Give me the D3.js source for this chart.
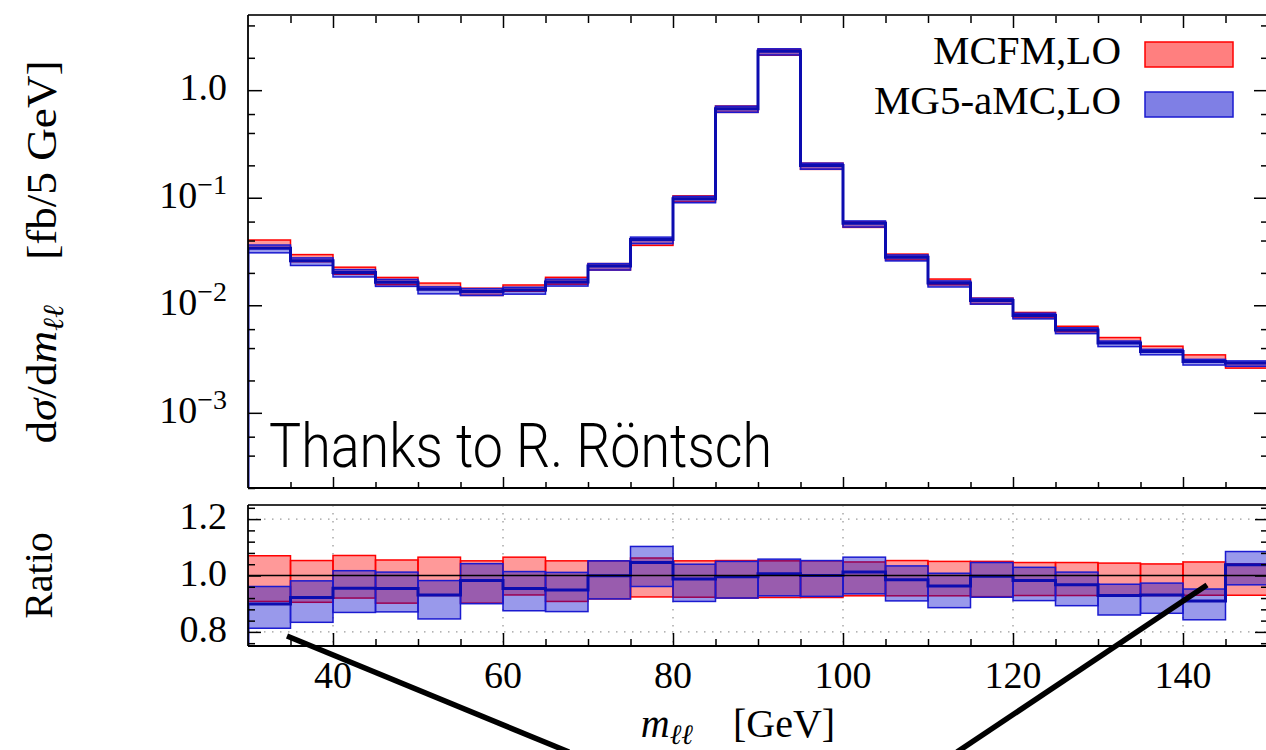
<!DOCTYPE html>
<html>
<head>
<meta charset="utf-8">
<script src="https://cdn.jsdelivr.net/npm/d3@7"></script>
<style>
  body { margin: 0; background: #fff; }
  svg text { font-family: "Liberation Serif", "DejaVu Serif", serif; fill: #000; }
</style>
</head>
<body>
<svg id="chart"></svg>
<script>
// ---- data ----
const binLow = [30, 35, 40, 45, 50, 55, 60, 65, 70, 75, 80, 85, 90, 95, 100, 105, 110, 115, 120, 125, 130, 135, 140, 145];
const binWidth = 5;

// MCFM,LO central value, fb / 5 GeV
const mcfmCentral = [0.0378, 0.0281, 0.0211, 0.0172, 0.0151, 0.0137, 0.0145, 0.0173, 0.0232, 0.0390,
  0.0989, 0.676, 2.29, 0.199, 0.0571, 0.0284, 0.0167, 0.0111, 0.0082, 0.0061, 0.0048, 0.0040, 0.0033, 0.0028];

// scale-variation bands, as ratio to MCFM central
const mcfmRatioLo = [0.908, 0.905, 0.920, 0.902, 0.929, 0.902, 0.931, 0.908, 0.917, 0.924, 0.923, 0.920,
  0.922, 0.922, 0.928, 0.928, 0.928, 0.925, 0.929, 0.929, 0.929, 0.929, 0.930, 0.930];
const mcfmRatioHi = [1.070, 1.053, 1.071, 1.055, 1.065, 1.052, 1.065, 1.052, 1.052, 1.062, 1.052, 1.053,
  1.052, 1.052, 1.048, 1.053, 1.050, 1.050, 1.046, 1.046, 1.044, 1.041, 1.048, 1.041];

const mg5RatioLo = [0.813, 0.834, 0.869, 0.871, 0.846, 0.900, 0.875, 0.872, 0.917, 0.961, 0.908, 0.920,
  0.928, 0.926, 0.935, 0.910, 0.886, 0.923, 0.911, 0.893, 0.860, 0.866, 0.843, 0.967];
const mg5RatioHi = [0.961, 0.981, 1.017, 1.012, 0.982, 1.042, 1.014, 1.011, 1.052, 1.103, 1.040, 1.050,
  1.058, 1.053, 1.065, 1.034, 1.008, 1.046, 1.029, 1.012, 0.969, 0.973, 0.952, 1.085];
const mg5RatioMid = [0.899, 0.922, 0.955, 0.954, 0.931, 0.982, 0.954, 0.949, 0.999, 1.046, 0.988, 0.996,
  1.006, 1.000, 1.012, 0.985, 0.963, 0.997, 0.982, 0.967, 0.929, 0.931, 0.910, 1.038];

const legendLabels = ["MCFM,LO", "MG5-aMC,LO"];
const xTicks = [40, 60, 80, 100, 120, 140];
const yMainTicks = [1e-3, 1e-2, 1e-1, 1];
const yMainMinor = [2e-4, 4e-4, 6e-4, 2e-3, 4e-3, 6e-3, 2e-2, 4e-2, 6e-2, 0.2, 0.4, 0.6, 2, 4];
const ratioTicks = [0.8, 1.0, 1.2];
const ratioMinor = [0.76, 0.84, 0.88, 0.92, 0.96, 1.04, 1.08, 1.12, 1.16, 1.24];

// ---- layout ----
const width = 1266, height = 750;
const L = 248, R = 1268;
const main = { top: 15, bottom: 488 };
const ratio = { top: 505, bottom: 646 };

const red = "#ff0000", blue = "#1a1ad0";
const redFill = "rgba(255,0,0,0.4)", blueFill = "rgba(0,0,204,0.4)";

const svg = d3.select("#chart").attr("width", width).attr("height", height);

const x = d3.scaleLinear().domain([30, 150]).range([L, R]);
const yMain = d3.scaleLog().domain([2e-4, 5]).range([main.bottom, main.top]);
const yRatio = d3.scaleLinear().domain([0.75, 1.25]).range([ratio.bottom, ratio.top]);

const bins = binLow.map((x0, i) => ({
  x0, x1: x0 + binWidth,
  c: mcfmCentral[i],
  rLo: mcfmRatioLo[i], rHi: mcfmRatioHi[i],
  bLo: mg5RatioLo[i], bHi: mg5RatioHi[i], bMid: mg5RatioMid[i]
}));

const defs = svg.append("defs");
defs.append("clipPath").attr("id", "clipMain").append("rect")
  .attr("x", L).attr("y", main.top).attr("width", R - L).attr("height", main.bottom - main.top);
defs.append("clipPath").attr("id", "clipRatio").append("rect")
  .attr("x", L).attr("y", ratio.top).attr("width", R - L).attr("height", ratio.bottom - ratio.top);

// step path through bin values, starting from the bottom of the panel
const stepPoints = (vals, floor) => {
  const pts = [[bins[0].x0, floor]];
  bins.forEach((b, i) => { pts.push([b.x0, vals[i]], [b.x1, vals[i]]); });
  pts.push([bins[bins.length - 1].x1, floor]);
  return pts;
};

const bandRects = (g, cls, lo, hi, fill, stroke, yScale) => {
  g.selectAll("rect." + cls)
    .data(bins)
    .join("rect")
    .attr("class", cls)
    .attr("x", d => x(d.x0))
    .attr("width", d => x(d.x1) - x(d.x0))
    .attr("y", d => yScale(hi(d)))
    .attr("height", d => yScale(lo(d)) - yScale(hi(d)))
    .attr("fill", fill)
    .attr("stroke", stroke)
    .attr("stroke-width", 1.5);
};

// ---- main panel ----
const gMain = svg.append("g").attr("clip-path", "url(#clipMain)");
bandRects(gMain, "mcfm", d => d.c * d.rLo, d => d.c * d.rHi, redFill, red, yMain);
bandRects(gMain, "mg5", d => d.c * d.bLo, d => d.c * d.bHi, blueFill, blue, yMain);

const lineMain = d3.line().x(d => x(d[0])).y(d => yMain(d[1]));
gMain.append("path")
  .attr("d", lineMain(stepPoints(bins.map(b => b.c * b.bMid), 2e-4)))
  .attr("fill", "none").attr("stroke", "#0c0cb0").attr("stroke-width", 3);

// ---- ratio panel ----
const gRatio = svg.append("g");
const grid = gRatio.append("g").attr("stroke", "#9a9a9a").attr("stroke-width", 1.3)
  .attr("stroke-dasharray", "1.5,6.5");
grid.selectAll("line.v").data(xTicks).join("line").attr("class", "v")
  .attr("x1", d => x(d)).attr("x2", d => x(d)).attr("y1", ratio.top).attr("y2", ratio.bottom);
grid.selectAll("line.h").data([0.8, 1.2]).join("line").attr("class", "h")
  .attr("x1", L).attr("x2", R).attr("y1", d => yRatio(d)).attr("y2", d => yRatio(d));

const gRatioData = gRatio.append("g").attr("clip-path", "url(#clipRatio)");
bandRects(gRatioData, "mcfm", d => d.rLo, d => d.rHi, redFill, red, yRatio);
bandRects(gRatioData, "mg5", d => d.bLo, d => d.bHi, blueFill, blue, yRatio);
const lineRatio = d3.line().x(d => x(d[0])).y(d => yRatio(d[1]));
gRatioData.append("path")
  .attr("d", lineRatio(stepPoints(mg5RatioMid, 0.7)))
  .attr("fill", "none").attr("stroke", "#0c0cb0").attr("stroke-width", 3);
gRatioData.append("line")
  .attr("x1", L).attr("x2", R).attr("y1", yRatio(1)).attr("y2", yRatio(1))
  .attr("stroke", "#000").attr("stroke-width", 1.5);

// ---- axes / ticks ----
const tickStyle = g => {
  g.select(".domain").remove();
  g.selectAll(".tick line").attr("stroke", "#000").attr("stroke-width", 1.5);
  g.selectAll(".tick text").remove();
};
const addAxis = (axis, tx, ty) => svg.append("g")
  .attr("transform", `translate(${tx},${ty})`).call(axis).call(tickStyle);

const x5 = d3.range(35, 150, 5);
const xMinor = x5.filter(v => v % 20 !== 0);

// main panel
addAxis(d3.axisLeft(yMain).tickValues(yMainTicks).tickSize(-14), L, 0);
addAxis(d3.axisLeft(yMain).tickValues(yMainMinor).tickSize(-7), L, 0);
addAxis(d3.axisRight(yMain).tickValues(yMainTicks).tickSize(-14), R, 0);
addAxis(d3.axisRight(yMain).tickValues(yMainMinor).tickSize(-7), R, 0);
addAxis(d3.axisBottom(x).tickValues(xTicks).tickSize(-11), 0, main.bottom);
addAxis(d3.axisBottom(x).tickValues(xMinor).tickSize(-6), 0, main.bottom);
addAxis(d3.axisTop(x).tickValues(xTicks).tickSize(-13), 0, main.top);
addAxis(d3.axisTop(x).tickValues(xMinor).tickSize(-8), 0, main.top);

// ratio panel
addAxis(d3.axisLeft(yRatio).tickValues(ratioTicks).tickSize(-13), L, 0);
addAxis(d3.axisLeft(yRatio).tickValues(ratioMinor).tickSize(-7), L, 0);
addAxis(d3.axisRight(yRatio).tickValues(ratioTicks).tickSize(-13), R, 0);
addAxis(d3.axisRight(yRatio).tickValues(ratioMinor).tickSize(-7), R, 0);
addAxis(d3.axisBottom(x).tickValues(xTicks).tickSize(-13), 0, ratio.bottom);
addAxis(d3.axisBottom(x).tickValues(xMinor).tickSize(-7), 0, ratio.bottom);

// frames
[main, ratio].forEach(p => {
  svg.append("line").attr("x1", L).attr("x2", R).attr("y1", p.top).attr("y2", p.top)
    .attr("stroke", "#333").attr("stroke-width", 2.2);
  svg.append("line").attr("x1", L).attr("x2", R).attr("y1", p.bottom).attr("y2", p.bottom)
    .attr("stroke", "#000").attr("stroke-width", 1.8);
  svg.append("line").attr("x1", L).attr("x2", L).attr("y1", p.top).attr("y2", p.bottom)
    .attr("stroke", "#000").attr("stroke-width", 1.8);
  svg.append("line").attr("x1", R).attr("x2", R).attr("y1", p.top).attr("y2", p.bottom)
    .attr("stroke", "#000").attr("stroke-width", 1.8);
});

// tick labels
const labelX = 227, tickFont = 38;
yMainTicks.forEach(v => {
  const t = svg.append("text").attr("x", labelX).attr("y", yMain(v) + 10)
    .attr("text-anchor", "end").attr("font-size", tickFont);
  if (v === 1) {
    t.text("1.0");
  } else {
    const e = Math.round(Math.log10(v));
    t.append("tspan").text("10");
    t.append("tspan").attr("dy", -14).attr("font-size", 28).text("\u2212" + Math.abs(e));
  }
});
ratioTicks.forEach(v => {
  svg.append("text").attr("x", labelX).attr("y", yRatio(v) + 10)
    .attr("text-anchor", "end").attr("font-size", tickFont).text(d3.format(".1f")(v));
});
xTicks.forEach(v => {
  svg.append("text").attr("x", x(v)).attr("y", 688)
    .attr("text-anchor", "middle").attr("font-size", tickFont).text(v);
});

// axis titles
const yTitle = svg.append("text")
  .attr("transform", "translate(56,252) rotate(-90)")
  .attr("text-anchor", "middle").attr("font-size", 42)
  .attr("textLength", 383).attr("lengthAdjust", "spacingAndGlyphs");
yTitle.append("tspan").text("d");
yTitle.append("tspan").attr("font-style", "italic").text("\u03c3");
yTitle.append("tspan").text("/d");
yTitle.append("tspan").attr("font-style", "italic").text("m");
yTitle.append("tspan").attr("font-style", "italic").attr("font-size", 29).attr("dy", 7).text("\u2113\u2113");
yTitle.append("tspan").attr("dy", -7).text("\u2002\u2002[fb/5 GeV]");

svg.append("text")
  .attr("transform", `translate(52,${yRatio(1)}) rotate(-90)`)
  .attr("text-anchor", "middle").attr("font-size", 40).text("Ratio");

const xTitle = svg.append("text").attr("x", 738).attr("y", 737)
  .attr("text-anchor", "middle").attr("font-size", 40);
xTitle.append("tspan").attr("font-style", "italic").text("m");
xTitle.append("tspan").attr("font-style", "italic").attr("font-size", 28).attr("dy", 7).text("\u2113\u2113");
xTitle.append("tspan").attr("dy", -7).text("\u2002\u2002[GeV]");

// legend
const legend = svg.append("g");
const legendFill = ["rgba(255,0,0,0.5)", "rgba(0,0,204,0.5)"];
const legendStroke = [red, blue];
legendLabels.forEach((lab, i) => {
  const yy = 42 + i * 50;
  legend.append("rect").attr("x", 1145).attr("y", yy).attr("width", 88).attr("height", 25)
    .attr("fill", legendFill[i]).attr("stroke", legendStroke[i]).attr("stroke-width", 1.5);
  legend.append("text").attr("x", 1121).attr("y", yy + 21.5).attr("text-anchor", "end")
    .attr("font-size", 41).text(lab);
});

// credit
svg.append("text").attr("x", 269).attr("y", 467)
  .style("font-family", "Roboto, 'Open Sans', sans-serif")
  .attr("font-weight", 300).attr("font-size", 62)
  .attr("textLength", 503).attr("lengthAdjust", "spacingAndGlyphs")
  .text("Thanks to R. R\u00f6ntsch");

// slide annotation strokes
svg.append("line").attr("x1", 287).attr("y1", 636).attr("x2", 569).attr("y2", 752)
  .attr("stroke", "#000").attr("stroke-width", 5.5);
svg.append("line").attr("x1", 1207).attr("y1", 585).attr("x2", 957).attr("y2", 752)
  .attr("stroke", "#000").attr("stroke-width", 5.5);
</script>
</body>
</html>
